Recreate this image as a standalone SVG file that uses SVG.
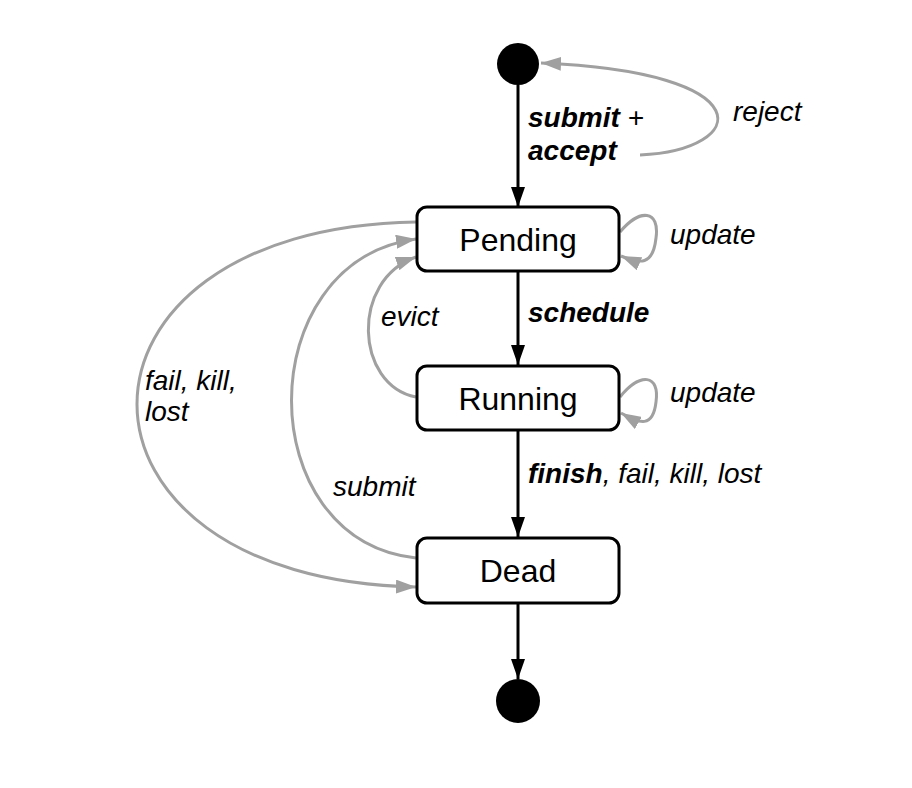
<svg xmlns="http://www.w3.org/2000/svg" width="912" height="788" viewBox="0 0 912 788">
<defs>
<style>
.node rect{fill:#fff;stroke:#000;stroke-width:3}
.node text{font-family:"Liberation Sans",Arial,sans-serif;font-size:32px;text-anchor:middle;fill:#000}
.pt{fill:#000}
.lbl{font-family:"Liberation Sans",Arial,sans-serif;font-size:28px;font-style:italic;fill:#000}
.b{font-weight:bold}
.blk{fill:none;stroke:#000;stroke-width:3}
.gry{fill:none;stroke:#a0a0a0;stroke-width:3}
</style>
<marker id="ab" markerUnits="userSpaceOnUse" viewBox="0 0 20 14" refX="20" refY="7" markerWidth="20" markerHeight="14" orient="auto"><path d="M0,0 L20,7 L0,14 z" fill="#000"/></marker>
<marker id="ag" markerUnits="userSpaceOnUse" viewBox="0 0 20 14" refX="20" refY="7" markerWidth="20" markerHeight="14" orient="auto"><path d="M0,0 L20,7 L0,14 z" fill="#a0a0a0"/></marker>
</defs>
<rect width="912" height="788" fill="#fff"/>
<g id="connectors">
<path class="blk" d="M518,85 L518,207" marker-end="url(#ab)"/>
<path class="blk" d="M518,272 L518,365" marker-end="url(#ab)"/>
<path class="blk" d="M518,431 L518,537" marker-end="url(#ab)"/>
<path class="blk" d="M518,604 L518,679" marker-end="url(#ab)"/>
<path class="gry" d="M640,155 C 750,150 765,72 541,63" marker-end="url(#ag)"/>
<path class="gry" d="M620,232 C 640,208 660,210 656,238 C 653,266 640,264 621,256" marker-end="url(#ag)"/>
<path class="gry" d="M620,397 C 640,372 660,374 656,402 C 653,428 640,424 621,413" marker-end="url(#ag)"/>
<path class="gry" d="M416,222 C 44,228 44,580 416,587" marker-end="url(#ag)"/>
<path class="gry" d="M416,558 C 250,540 250,262 416,239" marker-end="url(#ag)"/>
<path class="gry" d="M416,397 C 355,385 350,280 416,257" marker-end="url(#ag)"/>
</g>
<g id="start"><circle class="pt" cx="518" cy="64" r="21"/></g>
<g id="pending" class="node"><rect x="417" y="207" width="202" height="64" rx="10"/><text x="518" y="251">Pending</text></g>
<g id="running" class="node"><rect x="417" y="366" width="202" height="64" rx="10"/><text x="518" y="410">Running</text></g>
<g id="dead" class="node"><rect x="417" y="538" width="202" height="65" rx="10"/><text x="518" y="582">Dead</text></g>
<g id="end"><circle class="pt" cx="518" cy="701" r="22"/></g>
<g id="labels">
<text class="lbl" x="528" y="127"><tspan class="b">submit</tspan> +</text>
<text class="lbl b" x="528" y="160">accept</text>
<text class="lbl" x="733" y="121">reject</text>
<text class="lbl" x="670" y="244">update</text>
<text class="lbl" x="670" y="402">update</text>
<text class="lbl b" x="528" y="322">schedule</text>
<text class="lbl" x="381" y="326">evict</text>
<text class="lbl" x="145" y="390">fail, kill,</text>
<text class="lbl" x="145" y="421">lost</text>
<text class="lbl" x="333" y="496">submit</text>
<text class="lbl" x="528" y="483"><tspan class="b">finish</tspan>, fail, kill, lost</text>
</g>
</svg>
